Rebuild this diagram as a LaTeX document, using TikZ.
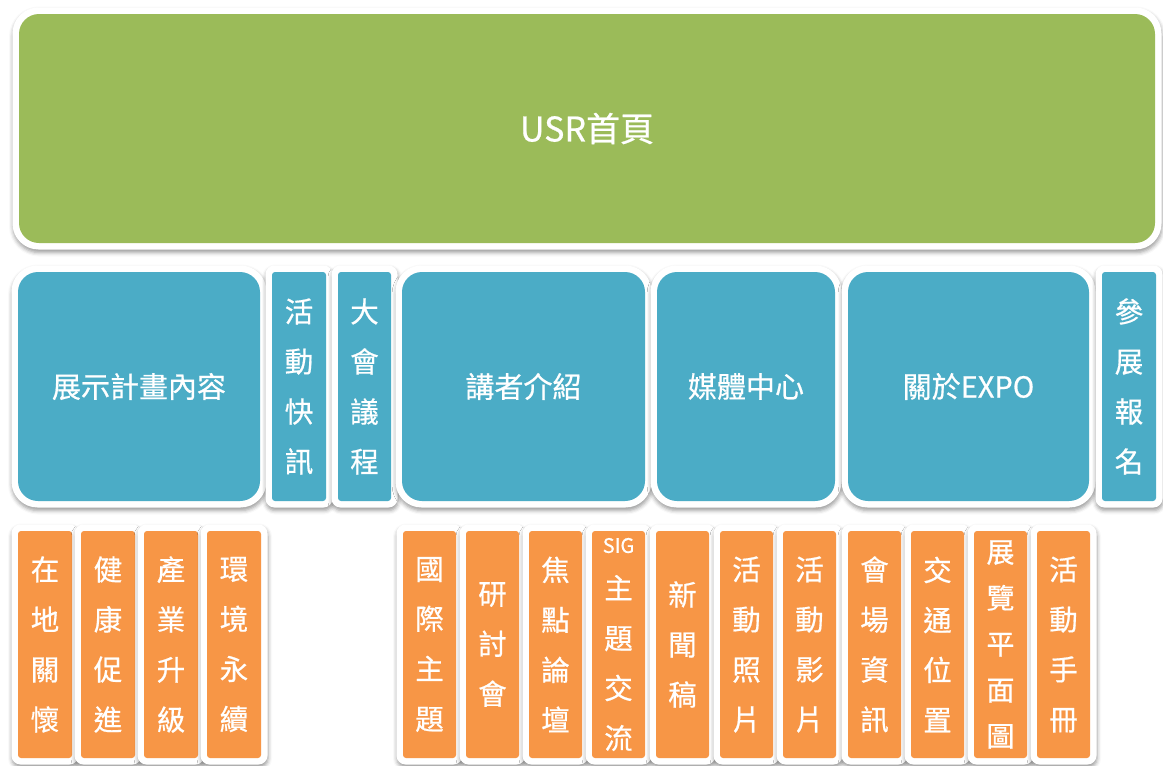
\documentclass[tikz,border=0pt]{standalone}
\usepackage{fontspec}
\setmainfont{Noto Sans CJK TC}[FakeBold=0.6]
\usetikzlibrary{shadows.blur}
\definecolor{cgreen}{HTML}{9BBB59}
\definecolor{cblue}{HTML}{4BACC6}
\definecolor{corange}{HTML}{F79646}
\tikzset{
  shad/.style={blur shadow={shadow xshift=0.5pt, shadow yshift=-3pt, shadow blur radius=4pt, shadow opacity=40}},
  basebox/.style={text=white, inner sep=0pt, outer sep=0pt, align=center},
  bigbox/.style={basebox, rounded corners=20pt},
  bigframe/.style={fill=white, rounded corners=26pt, shad},
  smallbox/.style={basebox, rounded corners=3pt},
  smallframe/.style={fill=white, rounded corners=9pt, shad},
  hfont/.style={font=\fontsize{29}{34}\selectfont},
  vfont/.style={font=\fontsize{28.5}{50}\selectfont},
}
% #1 name, #2 kind, #3 colour, #4 x1, #5 y1, #6 x2, #7 y2, #8 font style, #9 text
\newcommand\cbox[9]{%
  \path[#2frame] ({#4-6.5},{#5-6.5}) rectangle ({#6+6.5},{#7+6.5});
  \node[#2box, #8, fill=#3, minimum width={#6-#4}, minimum height={#7-#5}] (#1) at ({(#4+#6)/2},{(#5+#7)/2}) {#9};
}
\begin{document}
\begin{tikzpicture}[x=1pt, y=-1pt]
\useasboundingbox (0,0) rectangle (1163,766);
% top
\cbox{home}{big}{cgreen}{19}{14}{1155}{243}{font=\fontsize{34}{40}\selectfont}{USR首頁}
% middle row
\cbox{plan}{big}{cblue}{18}{272}{260}{501}{hfont}{展示計畫內容}
\cbox{news}{small}{cblue}{272}{272}{326}{501}{vfont}{活\\動\\快\\訊}
\cbox{agenda}{small}{cblue}{338}{272}{391}{501}{vfont}{大\\會\\議\\程}
\cbox{speaker}{big}{cblue}{402}{272}{645}{501}{hfont}{講者介紹}
\cbox{media}{big}{cblue}{657}{272}{835}{501}{hfont}{媒體中心}
\cbox{about}{big}{cblue}{848}{272}{1089}{501}{hfont}{關於EXPO}
\cbox{signup}{small}{cblue}{1102}{272}{1156}{501}{vfont}{參\\展\\報\\名}
% bottom row left
\cbox{b1}{small}{corange}{18}{531}{72}{758}{vfont}{在\\地\\關\\懷}
\cbox{b2}{small}{corange}{81}{531}{135}{758}{vfont}{健\\康\\促\\進}
\cbox{b3}{small}{corange}{144}{531}{198}{758}{vfont}{產\\業\\升\\級}
\cbox{b4}{small}{corange}{207}{531}{261}{758}{vfont}{環\\境\\永\\續}
% bottom row right
\cbox{c1}{small}{corange}{403}{531}{456}{758}{vfont}{國\\際\\主\\題}
\cbox{c2}{small}{corange}{466}{531}{519}{758}{vfont}{研\\討\\會}
\cbox{c3}{small}{corange}{529}{531}{582}{758}{vfont}{焦\\點\\論\\壇}
\cbox{c4}{small}{corange}{592}{531}{645}{758}{vfont}{{\fontsize{20}{24}\selectfont SIG}\\[-4pt]主\\題\\交\\流}
\cbox{c5}{small}{corange}{656}{531}{709}{758}{vfont}{新\\聞\\稿}
\cbox{c6}{small}{corange}{720}{531}{773}{758}{vfont}{活\\動\\照\\片}
\cbox{c7}{small}{corange}{783}{531}{836}{758}{vfont}{活\\動\\影\\片}
\cbox{c8}{small}{corange}{848}{531}{901}{758}{vfont}{會\\場\\資\\訊}
\cbox{c9}{small}{corange}{911}{531}{964}{758}{vfont}{交\\通\\位\\置}
\cbox{c10}{small}{corange}{974}{531}{1027}{758}{font=\fontsize{28}{46}\selectfont}{展\\覽\\平\\面\\圖}
\cbox{c11}{small}{corange}{1037}{531}{1090}{758}{vfont}{活\\動\\手\\冊}
\end{tikzpicture}
\end{document}
